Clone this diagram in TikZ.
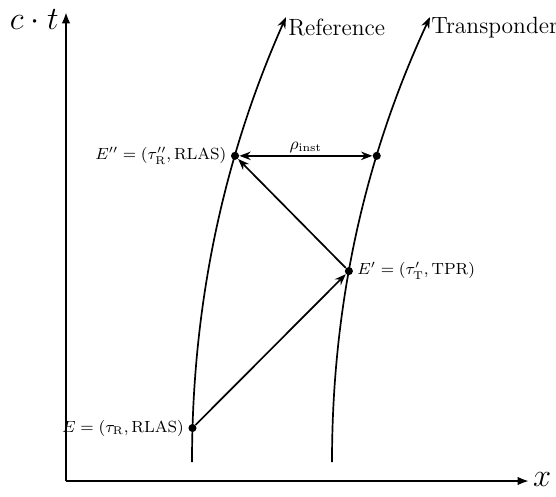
\RequirePackage{fix-cm}
\documentclass[tikz,border=0pt]{standalone}
\usetikzlibrary{arrows.meta}
\begin{document}
\begin{tikzpicture}[x=0.532pt,y=-0.532pt,
  axis/.style={line width=1.1pt,-{Latex[length=6pt,width=4.5pt]}},
  worldline/.style={line width=0.9pt,-{Stealth[length=6pt,width=4.5pt]}},
  signal/.style={line width=0.9pt,-{Stealth[length=6pt,width=4.5pt]}},
  event/.style={circle,fill=black,inner sep=0pt,minimum size=4.3pt},
  evlabel/.style={font=\fontsize{8.6}{10}\selectfont,inner sep=2pt}]
\useasboundingbox (0,0) rectangle (556,496);
% axes
\coordinate (O) at (66,481);
\coordinate (Ytop) at (66,12);
\coordinate (Xend) at (529,481);
\draw[axis] (O) -- (Ytop);
\draw[axis] (O) -- (Xend);
\node[font=\LARGE,anchor=east,inner sep=0pt] (ct) at (59,20) {$c\cdot t$};
\node[font=\LARGE,anchor=west,inner sep=2pt] (xl) at (529,479) {$x$};
% world lines
\draw[worldline] (192,462) .. controls (192,313.7) and (220,165.3) .. (286,17)
  coordinate[pos=0.0764] (E)
  coordinate[pos=0.688] (Epp)
  coordinate (Rtip);
\draw[worldline] (332,462) .. controls (332,313.7) and (361,165.3) .. (430,17)
  coordinate[pos=0.429] (Ep)
  coordinate[pos=0.688] (Tpp)
  coordinate (Ttip);
\node[font=\fontsize{12.5}{15}\selectfont,anchor=west,inner sep=1pt] (reflab) at ([yshift=-5.5pt]Rtip) {Reference};
\node[font=\fontsize{12.5}{15}\selectfont,anchor=west,inner sep=0.5pt] (trlab) at ([yshift=-5.5pt]Ttip) {Transponder};
% events
\node[event] (e1) at (E) {};
\node[event] (e2) at (Ep) {};
\node[event] (e3) at (Epp) {};
\node[event] (e4) at (Tpp) {};
\node[evlabel,anchor=east] (l1) at (e1.west) {$E=(\tau_{\mathrm{R}},\mathrm{RLAS})$};
\node[evlabel,anchor=west] (l2) at (e2.east) {$E'=(\tau'_{\mathrm{T}},\mathrm{TPR})$};
\node[evlabel,anchor=east] (l3) at (e3.west) {$E''=(\tau''_{\mathrm{R}},\mathrm{RLAS})$};
% signals
\draw[signal] (e1) -- (e2);
\draw[signal] (e2) -- (e3);
\draw[line width=0.9pt,{Stealth[length=6pt,width=4.5pt]}-{Stealth[length=6pt,width=4.5pt]}] (e3) -- node[above,font=\small,inner sep=1pt] (rho) {$\rho_{\mathrm{inst}}$} (e4);
\end{tikzpicture}
\end{document}
